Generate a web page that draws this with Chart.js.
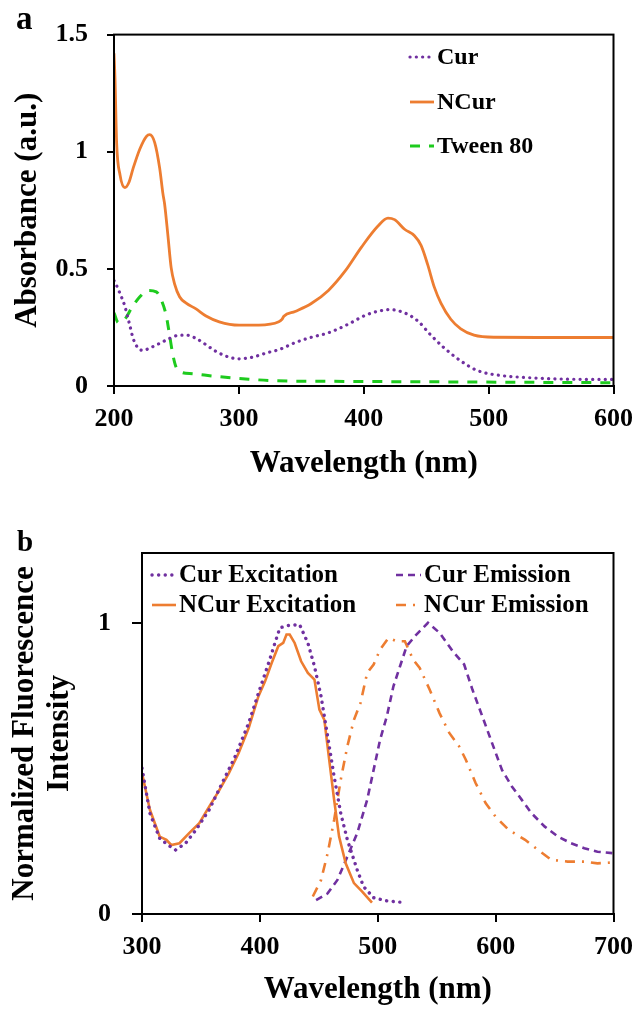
<!DOCTYPE html>
<html>
<head>
<meta charset="utf-8">
<script src="https://cdn.jsdelivr.net/npm/chart.js@4.4.0/dist/chart.umd.min.js"></script>
<style>
  body { margin: 0; background: #fff; }
  #wrap { position: relative; width: 643px; height: 1012px; }
  #chartA { position: absolute; left: 0; top: 0; }
  #chartB { position: absolute; left: 0; top: 490px; }
  .tag { position: absolute; font: bold 33px "Liberation Serif", "Times New Roman", serif; line-height: 1; color: #000; }
</style>
</head>
<body>
<div id="wrap">
  <canvas id="chartA" width="643" height="490"></canvas>
  <canvas id="chartB" width="643" height="522"></canvas>
  <div class="tag" style="left:16px; top:2px;">a</div>
  <div class="tag" style="left:17px; top:527px; font-size:29px;">b</div>
</div>
<script>
// ---- panel a : absorbance spectra ----
let curWl    = [200, 200.8, 204.8, 208.7, 212.7, 215.3, 219.3, 223.3, 228.6, 236.6, 244.5, 252.5, 258.3, 265.7, 273.7, 281.6, 292.2, 300.2, 310.7, 324, 332, 345, 358, 371.7, 387.6, 400.9, 411.4, 420.7, 432.7, 443.2, 453.8, 464.5, 477.7, 491, 509.5, 530.7, 557.2, 593, 600];
let curAbs   = [0.45, 0.443, 0.395, 0.34, 0.258, 0.203, 0.162, 0.152, 0.162, 0.182, 0.203, 0.217, 0.217, 0.203, 0.176, 0.148, 0.123, 0.116, 0.123, 0.144, 0.155, 0.185, 0.208, 0.227, 0.264, 0.301, 0.319, 0.326, 0.312, 0.278, 0.217, 0.162, 0.107, 0.066, 0.045, 0.036, 0.030, 0.028, 0.028];

let ncurWl   = [200, 200.8, 202.1, 204.8, 208.7, 212, 215.3, 220.7, 226, 228.6, 232.6, 236.6, 239.2, 240.5, 243.2, 245.8, 248.5, 252.5, 257.8, 265.7, 273.7, 284.3, 300.2, 316, 332, 334.5, 336, 345, 358, 371.7, 385, 398.2, 411.4, 419.4, 424.7, 432.7, 440.6, 445.9, 451.2, 456.5, 461.8, 469.7, 477.7, 488.3, 504.2, 550, 600];
let ncurAbs  = [1.42, 1.313, 1.039, 0.902, 0.847, 0.87, 0.929, 1.012, 1.066, 1.073, 1.039, 0.929, 0.82, 0.778, 0.641, 0.504, 0.436, 0.381, 0.354, 0.329, 0.299, 0.274, 0.260, 0.260, 0.274, 0.284, 0.298, 0.318, 0.352, 0.408, 0.49, 0.593, 0.683, 0.717, 0.71, 0.669, 0.641, 0.60, 0.518, 0.422, 0.354, 0.285, 0.244, 0.217, 0.208, 0.207, 0.207];

let tweenWl  = [200, 203.4, 208.7, 214.1, 220.7, 227.3, 233.9, 237.9, 241.9, 244.5, 247.1, 249.8, 253.8, 263, 281.6, 308, 326.6, 371.7, 450, 520, 600];
let tweenAbs = [0.312, 0.271, 0.285, 0.333, 0.381, 0.408, 0.402, 0.367, 0.299, 0.217, 0.134, 0.079, 0.059, 0.052, 0.041, 0.029, 0.023, 0.020, 0.018, 0.016, 0.014];

let absTicks = [0, 0.5, 1, 1.5];

// ---- panel b : normalized excitation / emission ----
let curExWl   = [300, 306.7, 315, 322, 328.5, 337, 345.8, 357, 368, 379, 390.5, 398.8, 407, 412.8, 417, 424, 433.7, 440.7, 446.3, 451.9, 457.5, 463, 468.6, 474.2, 482.6, 488, 496.5, 507.7, 521];
let curExInt  = [0.501, 0.346, 0.260, 0.237, 0.220, 0.243, 0.289, 0.358, 0.450, 0.541, 0.656, 0.759, 0.857, 0.931, 0.983, 0.991, 0.994, 0.931, 0.851, 0.748, 0.610, 0.472, 0.346, 0.255, 0.151, 0.094, 0.056, 0.045, 0.040];

let ncurExWl  = [300, 306.7, 315, 320.7, 324.8, 331.8, 340, 348.6, 357, 365, 373.7, 382, 390.5, 398.8, 404.4, 410, 415.6, 419.8, 422.6, 425.3, 429.5, 435, 440.7, 446.3, 450.5, 454.7, 458.8, 463, 467.2, 472.8, 479.8, 486.8, 495.1];
let ncurExInt = [0.484, 0.358, 0.266, 0.255, 0.237, 0.243, 0.278, 0.312, 0.369, 0.421, 0.484, 0.553, 0.639, 0.748, 0.799, 0.862, 0.920, 0.931, 0.960, 0.960, 0.931, 0.868, 0.828, 0.805, 0.702, 0.667, 0.530, 0.392, 0.266, 0.174, 0.106, 0.077, 0.039];

let curEmWl   = [447.7, 457.5, 465.8, 474.2, 482.6, 491, 496.5, 502, 507.7, 513.3, 518.9, 524.5, 532.8, 542.6, 552.4, 563.5, 573.3, 580.3, 588.7, 597, 605.4, 613.8, 622.2, 630.5, 641.7, 652.9, 664, 675.2, 686.4, 699];
let curEmInt  = [0.048, 0.071, 0.117, 0.197, 0.278, 0.392, 0.495, 0.599, 0.679, 0.782, 0.851, 0.920, 0.960, 1.0, 0.966, 0.903, 0.857, 0.771, 0.679, 0.587, 0.495, 0.438, 0.392, 0.346, 0.300, 0.266, 0.243, 0.226, 0.214, 0.209];

let ncurEmWl  = [444.9, 451.9, 457.5, 463, 468.6, 474.2, 479.8, 485.4, 491, 496.5, 502, 509, 516, 523, 530, 535.6, 544, 552.4, 560.7, 569, 574.7, 583, 591.5, 599.8, 611, 625, 636, 647.3, 661.2, 675.2, 686.4, 699];
let ncurEmInt = [0.060, 0.117, 0.209, 0.323, 0.461, 0.576, 0.667, 0.725, 0.828, 0.857, 0.908, 0.948, 0.937, 0.937, 0.874, 0.845, 0.771, 0.690, 0.622, 0.576, 0.530, 0.450, 0.381, 0.335, 0.289, 0.255, 0.220, 0.186, 0.180, 0.180, 0.174, 0.177];

let fluoTicks = [0, 1];

const serif = '"Liberation Serif", "Times New Roman", serif';
const orange = '#ED7D31';
const purple = '#7030A0';
const green = '#1ECB1E';

function pts(xs, ys) { return xs.map((x, i) => ({x: x, y: ys[i]})); }

// box round the plot area (top and right sides too)
const framePlugin = {
  id: 'frame',
  afterDraw(chart) {
    const a = chart.chartArea, ctx = chart.ctx;
    ctx.save();
    ctx.strokeStyle = '#000';
    ctx.lineWidth = 2;
    ctx.strokeRect(a.left, a.top, a.right - a.left, a.bottom - a.top);
    ctx.restore();
  }
};

// legend drawn inside the plot, one entry per dataset at a fixed spot
const boxLegend = {
  id: 'boxLegend',
  afterDraw(chart, args, opts) {
    const ctx = chart.ctx;
    ctx.save();
    chart.data.datasets.forEach((ds, i) => {
      const it = opts.items[i];
      if (!it) return;
      ctx.beginPath();
      ctx.strokeStyle = ds.borderColor;
      ctx.lineWidth = ds.borderWidth;
      ctx.lineCap = ds.borderCapStyle || 'butt';
      ctx.setLineDash(ds.borderDash || []);
      ctx.moveTo(it.x, it.y);
      ctx.lineTo(it.x + it.len, it.y);
      ctx.stroke();
      ctx.setLineDash([]);
      ctx.fillStyle = '#000';
      ctx.font = 'bold ' + opts.size + 'px ' + serif;
      ctx.textBaseline = 'middle';
      ctx.fillText(ds.label, it.x + it.len + 3, it.y + 1);
    });
    ctx.restore();
  }
};

function axisFont(size) { return {family: serif, size: size, weight: 'bold'}; }
function plainNum(v) { return String(v); }   // 1 not 1.0

function openAbsorbance() {
  const data = {
    datasets: [
      { label: 'Cur', data: pts(curWl, curAbs), borderColor: purple, borderWidth: 3.2,
        borderDash: [0.1, 6.2], borderCapStyle: 'round' },
      { label: 'NCur', data: pts(ncurWl, ncurAbs), borderColor: orange, borderWidth: 2.8 },
      { label: 'Tween 80', data: pts(tweenWl, tweenAbs), borderColor: green, borderWidth: 3,
        borderDash: [10, 9] }
    ]
  };
  data.datasets.forEach(d => { d.pointRadius = 0; d.fill = false; d.cubicInterpolationMode = 'monotone'; });
  const options = {
    responsive: false,
    animation: false,
    layout: { padding: { top: 21, right: 26, left: 0, bottom: 0 } },
    scales: {
      x: {
        type: 'linear', min: 200, max: 600,
        ticks: { stepSize: 100, color: '#000', font: axisFont(26), padding: 10, maxRotation: 0, callback: plainNum },
        grid: { drawOnChartArea: false, tickLength: 8, color: '#000', lineWidth: 2 },
        border: { color: '#000', width: 2 },
        title: { display: true, text: 'Wavelength (nm)', color: '#000', font: axisFont(31), padding: { top: 0, bottom: 7 } },
        afterFit: s => { s.height = 104; }
      },
      y: {
        min: 0, max: 1.5,
        afterBuildTicks: s => { s.ticks = absTicks.map(v => ({value: v})); },
        ticks: { color: '#000', font: axisFont(26), padding: 19, callback: plainNum },
        grid: { drawOnChartArea: false, tickLength: 7, color: '#000', lineWidth: 2 },
        border: { color: '#000', width: 2 },
        title: { display: true, text: 'Absorbance (a.u.)', color: '#000', font: axisFont(31), padding: { top: 9, bottom: 0 } },
        afterFit: s => { s.width = 114; }
      }
    },
    plugins: {
      legend: { display: false },
      tooltip: { enabled: false },
      boxLegend: { size: 24, items: [
        { x: 410, y: 57, len: 24 },
        { x: 410, y: 102, len: 24 },
        { x: 410, y: 146, len: 24 }
      ] }
    }
  };
  new Chart(document.getElementById('chartA'), { type: 'line', data, options, plugins: [framePlugin, boxLegend] });
}

function openFluorescence() {
  const data = {
    datasets: [
      { label: 'Cur Excitation', data: pts(curExWl, curExInt), borderColor: purple, borderWidth: 3.4,
        borderDash: [0.1, 6.5], borderCapStyle: 'round' },
      { label: 'NCur Excitation', data: pts(ncurExWl, ncurExInt), borderColor: orange, borderWidth: 2.6 },
      { label: 'Cur Emission', data: pts(curEmWl, curEmInt), borderColor: purple, borderWidth: 2.6,
        borderDash: [7, 5] },
      { label: 'NCur Emission', data: pts(ncurEmWl, ncurEmInt), borderColor: orange, borderWidth: 2.6,
        borderDash: [10, 7, 2, 7] }
    ]
  };
  data.datasets.forEach(d => { d.pointRadius = 0; d.fill = false; });
  const options = {
    responsive: false,
    animation: false,
    layout: { padding: { top: 63, right: 23, left: 0, bottom: 0 } },
    scales: {
      x: {
        type: 'linear', min: 300, max: 700,
        ticks: { stepSize: 100, color: '#000', font: axisFont(26), padding: 10, maxRotation: 0, callback: plainNum },
        grid: { drawOnChartArea: false, tickLength: 8, color: '#000', lineWidth: 2 },
        border: { color: '#000', width: 2 },
        title: { display: true, text: 'Wavelength (nm)', color: '#000', font: axisFont(31), padding: { top: 0, bottom: 3 } },
        afterFit: s => { s.height = 98; }
      },
      y: {
        min: 0, max: 1.24,
        afterBuildTicks: s => { s.ticks = fluoTicks.map(v => ({value: v})); },
        ticks: { color: '#000', font: axisFont(26), padding: 21, callback: plainNum },
        grid: { drawOnChartArea: false, tickLength: 10, color: '#000', lineWidth: 2 },
        border: { color: '#000', width: 2 },
        title: { display: true, text: ['Normalized Fluorescence', 'Intensity'], color: '#000',
                 font: { family: serif, size: 31, weight: 'bold', lineHeight: 1.15 }, padding: { top: 7, bottom: 0 } },
        afterFit: s => { s.width = 142; }
      }
    },
    plugins: {
      legend: { display: false },
      tooltip: { enabled: false },
      boxLegend: { size: 25, items: [
        { x: 152, y: 85, len: 24 },
        { x: 152, y: 115, len: 24 },
        { x: 396, y: 85, len: 25 },
        { x: 396, y: 115, len: 25 }
      ] }
    }
  };
  new Chart(document.getElementById('chartB'), { type: 'line', data, options, plugins: [framePlugin, boxLegend] });
}

window.onload = function() {
  openAbsorbance();
  openFluorescence();
};
</script>
</body>
</html>
